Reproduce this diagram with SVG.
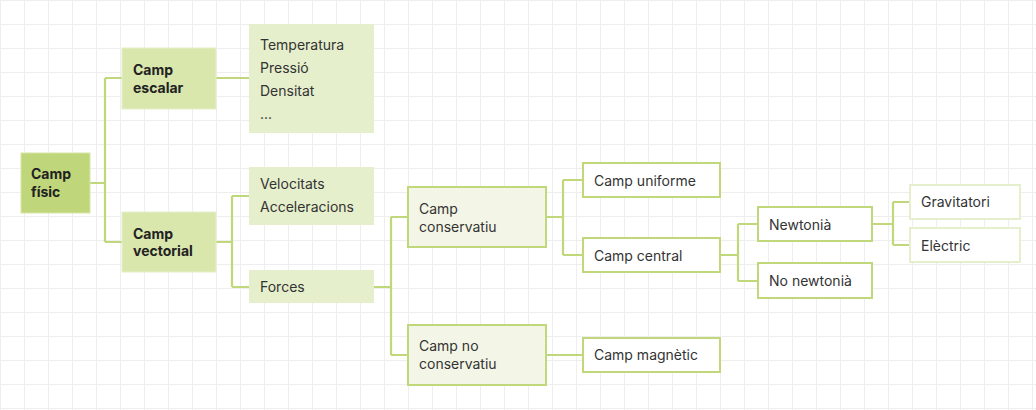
<svg xmlns="http://www.w3.org/2000/svg" width="1036" height="410" viewBox="0 0 1036 410">
<defs>
<pattern id="grid" width="24" height="24" patternUnits="userSpaceOnUse">
<path d="M0 0V24M0 0H24" fill="none" stroke="#eeeeee" stroke-width="2"/>
</pattern>
<style>
.t{font-family:Inter,"Noto Sans",sans-serif;font-size:14px;fill:#333}
.b{font-family:Inter,"Noto Sans",sans-serif;font-size:14px;font-weight:700;fill:#222}
.c{fill:none;stroke:#c0d77a;stroke-width:2.2}
.n1{fill:#bfd67a;stroke:#d7e6a8;stroke-width:1}
.n2{fill:#d9e6ac;stroke:#e6efcc;stroke-width:1}
.n3{fill:#e6efcc}
.n4{fill:#f3f6e6;stroke:#c0d77a;stroke-width:2}
.n5{fill:#fff;stroke:#c0d77a;stroke-width:2}
.n6{fill:#fff;stroke:#e6efcc;stroke-width:2}
</style>
</defs>
<rect width="1036" height="410" fill="#fff"/>
<rect width="1036" height="410" fill="url(#grid)"/>
<g id="connectors">
<path class="c" d="M90 183H105M105 78V242M105 78H122M105 242H122"/>
<path class="c" d="M216 78H249"/>
<path class="c" d="M216 242H232M232 196V287M232 196H249M232 287H249"/>
<path class="c" d="M374 287H391M391 217V355M391 217H408M391 355H408"/>
<path class="c" d="M546 217H563M563 180V255M563 180H583M563 255H583"/>
<path class="c" d="M546 355H583"/>
<path class="c" d="M720 255H738M738 224V281M738 224H758M738 281H758"/>
<path class="c" d="M872 224H893M893 202V245M893 202H910M893 245H910"/>
</g>
<g id="camp-fisic">
<rect class="n1" x="21" y="153" width="69" height="60"/>
<text class="b" x="31" y="179">Camp</text>
<text class="b" x="31" y="197">físic</text>
</g>
<g id="camp-escalar">
<rect class="n2" x="122" y="48" width="94" height="61"/>
<text class="b" x="133" y="75">Camp</text>
<text class="b" x="133" y="93">escalar</text>
</g>
<g id="escalars">
<rect class="n3" x="249" y="24" width="125" height="109"/>
<text class="t" x="260" y="50">Temperatura</text>
<text class="t" x="260" y="73">Pressió</text>
<text class="t" x="260" y="96">Densitat</text>
<text class="t" x="260" y="119">...</text>
</g>
<g id="camp-vectorial">
<rect class="n2" x="122" y="212" width="94" height="60"/>
<text class="b" x="133" y="239">Camp</text>
<text class="b" x="133" y="256">vectorial</text>
</g>
<g id="velocitats">
<rect class="n3" x="249" y="167" width="125" height="58"/>
<text class="t" x="260" y="189">Velocitats</text>
<text class="t" x="260" y="212">Acceleracions</text>
</g>
<g id="forces">
<rect class="n3" x="249" y="270" width="125" height="33"/>
<text class="t" x="260" y="292">Forces</text>
</g>
<g id="camp-conservatiu">
<rect class="n4" x="408" y="187" width="138" height="60"/>
<text class="t" x="419" y="214">Camp</text>
<text class="t" x="419" y="232">conservatiu</text>
</g>
<g id="camp-no-conservatiu">
<rect class="n4" x="408" y="325" width="138" height="60"/>
<text class="t" x="419" y="351">Camp no</text>
<text class="t" x="419" y="369">conservatiu</text>
</g>
<g id="camp-uniforme">
<rect class="n5" x="583" y="163" width="137" height="34"/>
<text class="t" x="594" y="186">Camp uniforme</text>
</g>
<g id="camp-central">
<rect class="n5" x="583" y="238" width="137" height="34"/>
<text class="t" x="594" y="261">Camp central</text>
</g>
<g id="camp-magnetic">
<rect class="n5" x="583" y="338" width="137" height="34"/>
<text class="t" x="594" y="360">Camp magnètic</text>
</g>
<g id="newtonia">
<rect class="n5" x="758" y="207" width="114" height="34"/>
<text class="t" x="769" y="230">Newtonià</text>
</g>
<g id="no-newtonia">
<rect class="n5" x="758" y="263" width="114" height="35"/>
<text class="t" x="769" y="286">No newtonià</text>
</g>
<g id="gravitatori">
<rect class="n6" x="910" y="185" width="110" height="34"/>
<text class="t" x="921" y="207">Gravitatori</text>
</g>
<g id="electric">
<rect class="n6" x="910" y="228" width="110" height="34"/>
<text class="t" x="921" y="251">Elèctric</text>
</g>
</svg>
